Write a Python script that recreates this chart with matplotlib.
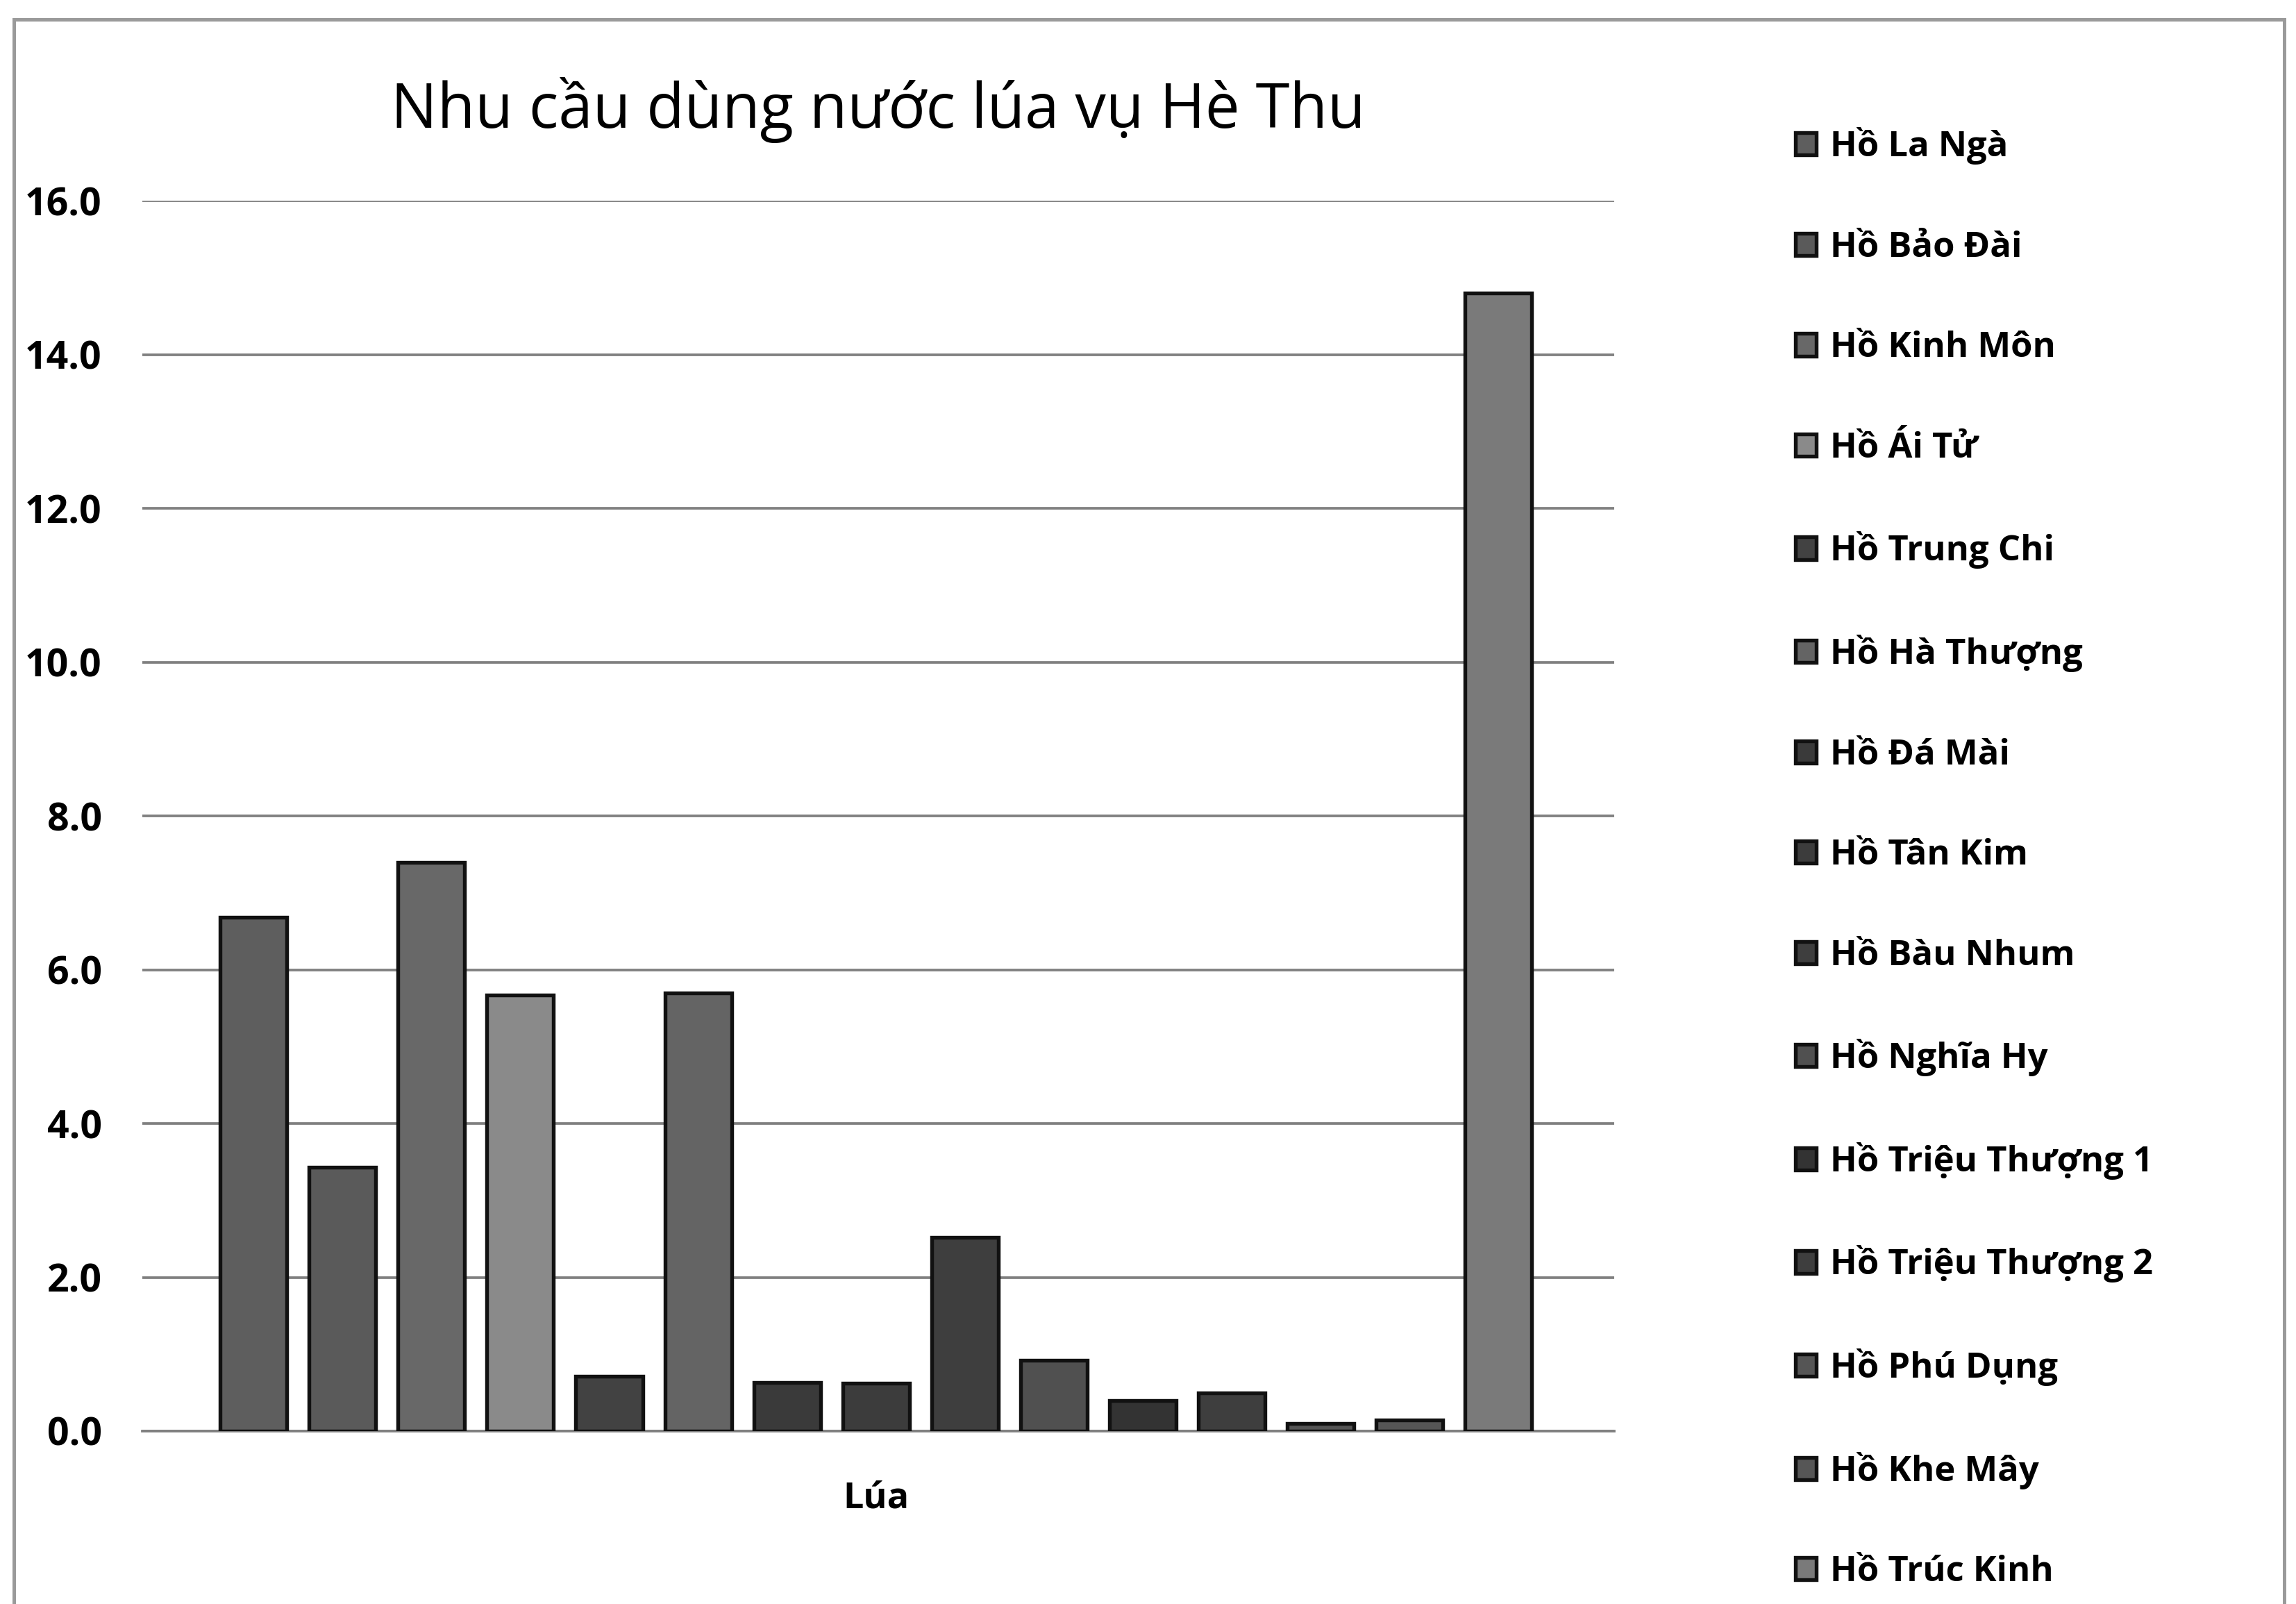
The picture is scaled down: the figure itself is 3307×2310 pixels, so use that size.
import matplotlib
matplotlib.use("Agg")
import matplotlib.pyplot as plt
from matplotlib.patches import Rectangle

plt.rcParams['font.family'] = ['Open Sans', 'DejaVu Sans']

title = "Nhu cầu dùng nước lúa vụ Hè Thu"
category = "Lúa"
series_names = ["Hồ La Ngà", "Hồ Bảo Đài", "Hồ Kinh Môn", "Hồ Ái Tử", "Hồ Trung Chi",
                "Hồ Hà Thượng", "Hồ Đá Mài", "Hồ Tân Kim", "Hồ Bàu Nhum", "Hồ Nghĩa Hy",
                "Hồ Triệu Thượng 1", "Hồ Triệu Thượng 2", "Hồ Phú Dụng", "Hồ Khe Mây",
                "Hồ Trúc Kinh"]
values = [6.68, 3.43, 7.4, 5.67, 0.71, 5.7, 0.63, 0.62, 2.52, 0.92, 0.4, 0.5, 0.1, 0.14, 14.8]
colors = ["#5e5e5e", "#5a5a5a", "#686868", "#8a8a8a", "#424242", "#646464", "#3a3a3a",
          "#3c3c3c", "#3e3e3e", "#505050", "#333333", "#3e3e3e", "#555555", "#565656",
          "#7a7a7a"]
yticks = [0, 2, 4, 6, 8, 10, 12, 14, 16]

fig = plt.figure(figsize=(3307/300, 2310/300), dpi=300)
ax = fig.add_axes([0.062, 0.1078, 0.641, 0.767])

handles = []
for i, (name, v, c) in enumerate(zip(series_names, values, colors)):
    b = ax.bar(i, v, width=0.75, color=c, edgecolor="#111111", linewidth=1.3,
               label=name, zorder=3)
    handles.append(b)

ax.set_xlim(-1.25, 15.3)
ax.set_ylim(0, 16)
ax.set_yticks(yticks)
ax.set_yticklabels([f"{t:.1f}" for t in yticks], fontsize=13.3, fontweight='bold')
ax.set_xticks([7])
ax.set_xticklabels([category], fontsize=12.5, fontweight='bold')
ax.tick_params(axis='y', length=0, pad=14)
ax.tick_params(axis='x', length=0, pad=17)
ax.grid(axis='y', color="#808080", linewidth=0.9, zorder=0)
for s in ['top', 'right', 'left']:
    ax.spines[s].set_visible(False)
ax.spines['bottom'].set_color("#808080")
ax.spines['bottom'].set_linewidth(0.9)

fig.text(0.3825, 0.9316, title, fontsize=21.3, ha='center', va='center')

leg = fig.legend(handles=handles, labels=series_names, loc='upper left',
                 bbox_to_anchor=(0.768, 0.9405), frameon=False,
                 prop={'size': 12.2, 'weight': 'bold'}, handlelength=0.6,
                 handleheight=0.6, handletextpad=0.4, labelspacing=1.86)

fig.patches.append(Rectangle((0.006, -0.02), 0.989, 1.008, transform=fig.transFigure,
                             fill=False, edgecolor="#9a9a9a", linewidth=1.2))

fig.savefig("out.png", dpi=300)
